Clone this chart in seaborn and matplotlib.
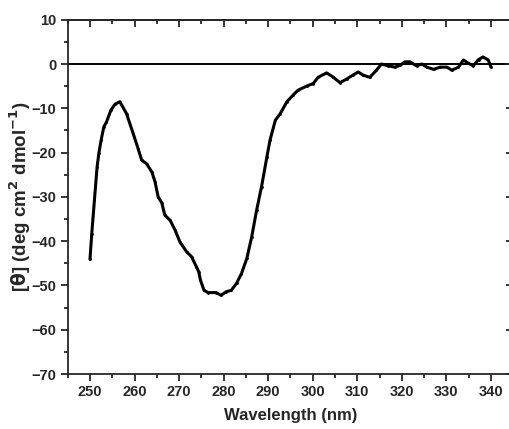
import matplotlib
matplotlib.use("Agg")
from matplotlib import pyplot as plt
from matplotlib.ticker import MultipleLocator
import pandas as pd
import seaborn as sns

# CD spectrum
wavelength = [250.0, 250.4, 251.0, 251.6, 252.0, 252.5, 253.1, 253.7, 254.7, 255.6,
              256.7, 258.2, 259.7, 260.8, 261.6, 262.7, 263.9, 264.6, 265.3, 266.1,
              266.8, 268.0, 269.1, 270.2, 271.7, 272.8, 273.9, 274.4, 274.8, 275.6,
              276.5, 278.3, 279.4, 280.6, 281.7, 282.9, 284.0, 285.2, 286.3, 287.4,
              288.5, 289.7, 290.4, 291.6, 292.7, 294.2, 295.6, 296.7, 298.6, 300.1,
              301.2, 303.1, 304.5, 306.1, 307.6, 309.0, 310.2, 311.3, 312.8, 314.3,
              315.4, 316.9, 318.4, 319.6, 320.7, 321.8, 323.3, 324.5, 325.6, 327.1,
              328.6, 330.1, 331.2, 332.7, 333.8, 334.9, 336.0, 337.2, 338.2, 339.4,
              340.0]
theta = [-44.1, -38.3, -30.7, -23.2, -20.1, -17.2, -14.2, -13.1, -10.4, -9.1,
         -8.5, -11.2, -15.7, -19.1, -21.7, -22.5, -24.4, -26.6, -30.0, -31.3,
         -34.1, -35.3, -37.5, -40.2, -42.4, -43.5, -45.8, -46.9, -48.8, -51.1,
         -51.6, -51.6, -52.2, -51.4, -51.1, -49.5, -47.3, -43.9, -39.0, -33.0,
         -27.7, -21.0, -17.2, -12.7, -11.2, -8.5, -7.0, -5.9, -5.0, -4.4,
         -3.0, -2.0, -2.9, -4.2, -3.4, -2.5, -1.8, -2.5, -3.0, -1.4,
         0.0, -0.4, -0.7, -0.3, 0.5, 0.5, -0.4, 0.0, -0.7, -1.2,
         -0.7, -0.7, -1.4, -0.7, 0.9, 0.2, -0.4, 1.0, 1.6, 0.9,
         -0.7]

df = pd.DataFrame({"Wavelength": wavelength, "Theta": theta})

sns.set_style("ticks")
plt.rcParams["font.family"] = ["Liberation Sans", "DejaVu Sans"]
plt.rcParams["font.weight"] = "bold"
plt.rcParams["mathtext.default"] = "bf"

fig = plt.figure(figsize=(5.09, 4.29), dpi=100)
ax = fig.add_axes([0.133, 0.128, 0.8754, 0.826])

sns.lineplot(data=df, x="Wavelength", y="Theta", color="black", linewidth=2.2,
             marker="o", markersize=2, markeredgewidth=0, ax=ax)
ax.axhline(0, color="black", linewidth=1.4, zorder=0)

ax.set_xlim(245, 345)
ax.set_ylim(-70, 10)
ax.xaxis.set_major_locator(MultipleLocator(10))
ax.xaxis.set_minor_locator(MultipleLocator(5))
ax.yaxis.set_major_locator(MultipleLocator(10))
ax.yaxis.set_minor_locator(MultipleLocator(5))
ax.tick_params(which="both", direction="out", width=1.3, labelsize=10.5, pad=3)
ax.tick_params(which="major", length=5)
ax.tick_params(which="minor", length=3)
for lab in ax.get_xticklabels() + ax.get_yticklabels():
    lab.set_fontweight("bold")

# mirrored ticks pointing into the plot
top = ax.secondary_xaxis("top")
top.xaxis.set_major_locator(MultipleLocator(10))
top.xaxis.set_minor_locator(MultipleLocator(5))
top.tick_params(which="both", direction="in", width=1.3, labeltop=False)
top.tick_params(which="major", length=5)
top.tick_params(which="minor", length=3)
right = ax.secondary_yaxis("right")
right.yaxis.set_major_locator(MultipleLocator(10))
right.yaxis.set_minor_locator(MultipleLocator(5))
right.tick_params(which="both", direction="in", width=1.3, labelright=False)
right.tick_params(which="major", length=5)
right.tick_params(which="minor", length=3)

for s in ax.spines.values():
    s.set_linewidth(1.3)
top.spines["top"].set_linewidth(1.3)
right.spines["right"].set_linewidth(1.3)

ax.set_xlabel("Wavelength (nm)", fontsize=12, fontweight="bold", labelpad=6)
ax.set_ylabel(r"[$\theta$] (deg cm$^{2}$ dmol$^{-1}$)", fontsize=13.5, fontweight="bold")
ax.yaxis.set_label_coords(-0.077, 0.5)

fig.savefig("out.png", dpi=100)
